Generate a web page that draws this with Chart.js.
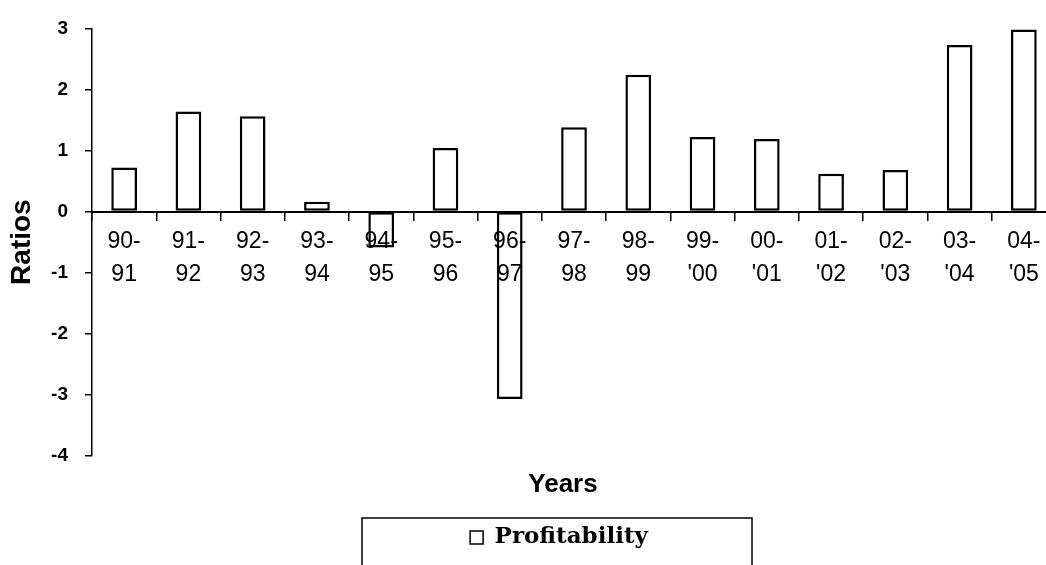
<!DOCTYPE html>
<html>
<head>
<meta charset="utf-8">
<script src="https://cdn.jsdelivr.net/npm/chart.js@4.4.1/dist/chart.umd.min.js"></script>
<style>
  html, body { margin: 0; padding: 0; background: #fff; overflow: hidden; }
  #wrap { width: 1066px; height: 565px; }
</style>
</head>
<body>
<div id="wrap"><canvas id="ratioChart" width="1066" height="565"></canvas></div>
<script>
// data
var yearLabels = [
  ["90-", "91"], ["91-", "92"], ["92-", "93"], ["93-", "94"], ["94-", "95"],
  ["95-", "96"], ["96-", "97"], ["97-", "98"], ["98-", "99"], ["99-", "'00"],
  ["00-", "'01"], ["01-", "'02"], ["02-", "'03"], ["03-", "'04"], ["04-", "'05"]
];
var profitability = [0.72, 1.64, 1.56, 0.16, -0.59, 1.04, -3.07, 1.38, 2.24, 1.22, 1.19, 0.62, 0.68, 2.73, 2.98];
var yMin = -4;
var yMax = 3;

// nudge title + legend a bit left and put the box round the legend
var legendFrame = {
  id: 'legendFrame',
  afterLayout: function(chart) {
    if (chart.titleBlock) {
      chart.titleBlock.left -= 11;
      chart.titleBlock.right -= 11;
    }
    if (chart.legend) {
      chart.legend.left -= 15;
      chart.legend.right -= 15;
    }
  },
  afterDraw: function(chart) {
    var lg = chart.legend;
    if (!lg) return;
    var cx = (lg.left + lg.right) / 2;
    var ctx = chart.ctx;
    ctx.save();
    ctx.strokeStyle = '#000';
    ctx.lineWidth = 1.5;
    ctx.strokeRect(cx - 197, 518, 390, 70);
    ctx.restore();
  }
};

var ctx = document.getElementById('ratioChart');
window.chartRatios = new Chart(ctx, {
  type: 'bar',
  data: {
    labels: yearLabels,
    datasets: [{
      label: 'Profitability',
      data: profitability,
      backgroundColor: '#ffffff',
      borderColor: '#000000',
      borderWidth: 2.5,
      borderSkipped: false,
      categoryPercentage: 1.0,
      barPercentage: 0.4,
      clip: false
    }]
  },
  options: {
    responsive: false,
    animation: false,
    devicePixelRatio: 1,
    layout: { padding: { top: 24, bottom: 6, left: 0, right: 10 } },
    scales: {
      x: {
        position: { y: 0 },
        grid: { drawOnChartArea: false, drawTicks: true, tickLength: 8, color: '#000', lineWidth: 1.5, offset: true, z: 1 },
        border: { display: true, color: '#000', width: 2, z: 1 },
        ticks: {
          z: 1,
          color: '#000',
          padding: 5,
          maxRotation: 0,
          autoSkip: false,
          font: { family: '"Liberation Sans", Arial, sans-serif', size: 23, lineHeight: 1.45 }
        }
      },
      y: {
        min: yMin,
        max: yMax,
        afterFit: function(scale) { scale.width = 92; },
        grid: { drawOnChartArea: false, drawTicks: true, tickLength: 7, color: '#000', lineWidth: 1.5 },
        border: { display: true, color: '#000', width: 1.5 },
        ticks: {
          stepSize: 1,
          color: '#000',
          padding: 17,
          font: { family: '"Liberation Sans", Arial, sans-serif', size: 19, weight: 'bold' }
        },
        title: {
          display: true,
          text: 'Ratios',
          color: '#000',
          padding: { top: 5, bottom: 0 },
          font: { family: '"Liberation Sans", Arial, sans-serif', size: 28, weight: 'bold' }
        }
      }
    },
    plugins: {
      title: {
        display: true,
        text: 'Years',
        position: 'bottom',
        weight: 500,
        fullSize: false,
        color: '#000',
        padding: { top: 13, bottom: 16 },
        font: { family: '"Liberation Sans", Arial, sans-serif', size: 26, weight: 'bold' }
      },
      legend: {
        display: true,
        position: 'bottom',
        fullSize: false,
        labels: {
          color: '#000',
          boxWidth: 13,
          boxHeight: 13,
          padding: 10,
          font: { family: '"DejaVu Serif", "Liberation Serif", serif', size: 23, weight: 'bold' },
          generateLabels: function(chart) {
            return [{
              text: 'Profitability',
              fillStyle: '#fff',
              strokeStyle: '#000',
              lineWidth: 1.5,
              fontColor: '#000',
              datasetIndex: 0
            }];
          }
        }
      },
      tooltip: { enabled: false }
    }
  },
  plugins: [legendFrame]
});
</script>
</body>
</html>
